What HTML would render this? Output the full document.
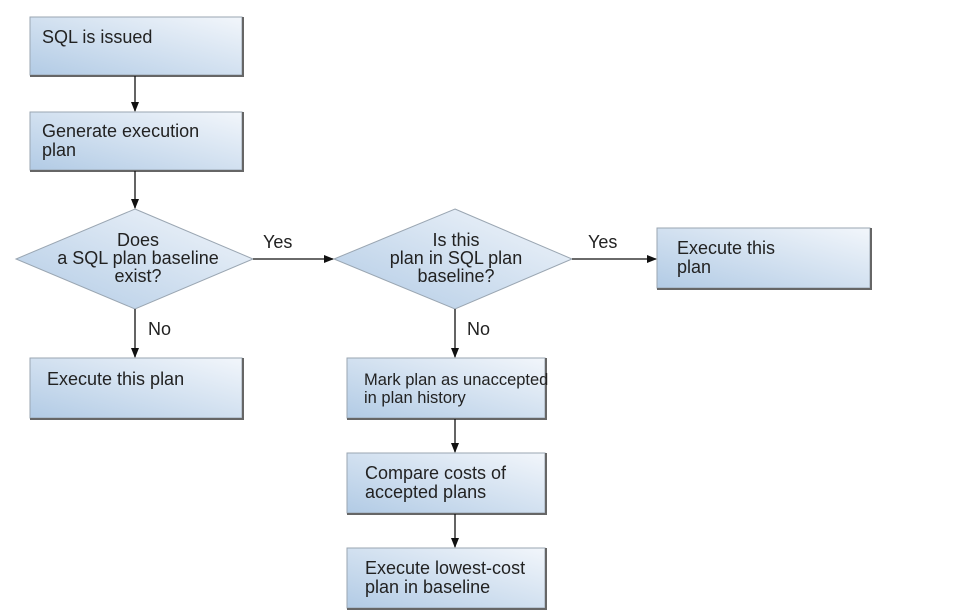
<!DOCTYPE html>
<html><head><meta charset="utf-8"><style>
html,body{margin:0;padding:0;background:#fff;}
svg{display:block;}
text{font-family:"Liberation Sans",sans-serif;font-size:18px;fill:#222;}
</style></head><body>
<svg width="974" height="610" viewBox="0 0 974 610" xmlns="http://www.w3.org/2000/svg">
<defs>
<linearGradient id="g" x1="0" y1="1" x2="1" y2="0">
<stop offset="0" stop-color="#b2cbe5"/><stop offset="1" stop-color="#f2f6fb"/>
</linearGradient>
<marker id="a" markerWidth="10" markerHeight="10" refX="9" refY="5" orient="auto" markerUnits="userSpaceOnUse">
<path d="M0,1 L10,5 L0,9 Z" fill="#111"/></marker>
</defs>
<g stroke="#9aa6b2" stroke-width="1" fill="url(#g)">
<rect x="30" y="17" width="212" height="58"/>
<rect x="30" y="112" width="212" height="58"/>
<rect x="30" y="358" width="212" height="60"/>
<rect x="657" y="228" width="213" height="60"/>
<rect x="347" y="358" width="198" height="60"/>
<rect x="347" y="453" width="198" height="60"/>
<rect x="347" y="548" width="198" height="60"/>
<polygon points="135,209 253,259 135,309 16,259"/>
<polygon points="455,209 572,259 455,309 334,259"/>
</g>
<g stroke="#666" stroke-width="2" fill="none">
<path d="M30,76 H243 V17"/><path d="M30,171 H243 V112"/><path d="M30,419 H243 V358"/>
<path d="M657,289 H871 V228"/><path d="M347,419 H546 V358"/><path d="M347,514 H546 V453"/><path d="M347,609 H546 V548"/>
</g>
<g stroke="#111" stroke-width="1.3" marker-end="url(#a)">
<line x1="135" y1="76" x2="135" y2="111"/>
<line x1="135" y1="171" x2="135" y2="208"/>
<line x1="135" y1="309" x2="135" y2="357"/>
<line x1="253" y1="259" x2="333" y2="259"/>
<line x1="572" y1="259" x2="656" y2="259"/>
<line x1="455" y1="309" x2="455" y2="357"/>
<line x1="455" y1="419" x2="455" y2="452"/>
<line x1="455" y1="514" x2="455" y2="547"/>
</g>
<text x="42" y="43">SQL is issued</text>
<text x="42" y="137">Generate execution</text><text x="42" y="156">plan</text>
<text x="47" y="385">Execute this plan</text>
<text x="677" y="254">Execute this</text><text x="677" y="273">plan</text>
<text x="364" y="385" style="font-size:16.5px">Mark plan as unaccepted</text><text x="364" y="403" style="font-size:16.5px">in plan history</text>
<text x="365" y="479">Compare costs of</text><text x="365" y="498">accepted plans</text>
<text x="365" y="574">Execute lowest-cost</text><text x="365" y="593">plan in baseline</text>
<g text-anchor="middle">
<text x="138" y="246">Does</text><text x="138" y="264">a SQL plan baseline</text><text x="138" y="282">exist?</text>
<text x="456" y="246">Is this</text><text x="456" y="264">plan in SQL plan</text><text x="456" y="282">baseline?</text>
</g>
<text x="263" y="248">Yes</text><text x="588" y="248">Yes</text>
<text x="148" y="335">No</text><text x="467" y="335">No</text>
</svg>
</body></html>
